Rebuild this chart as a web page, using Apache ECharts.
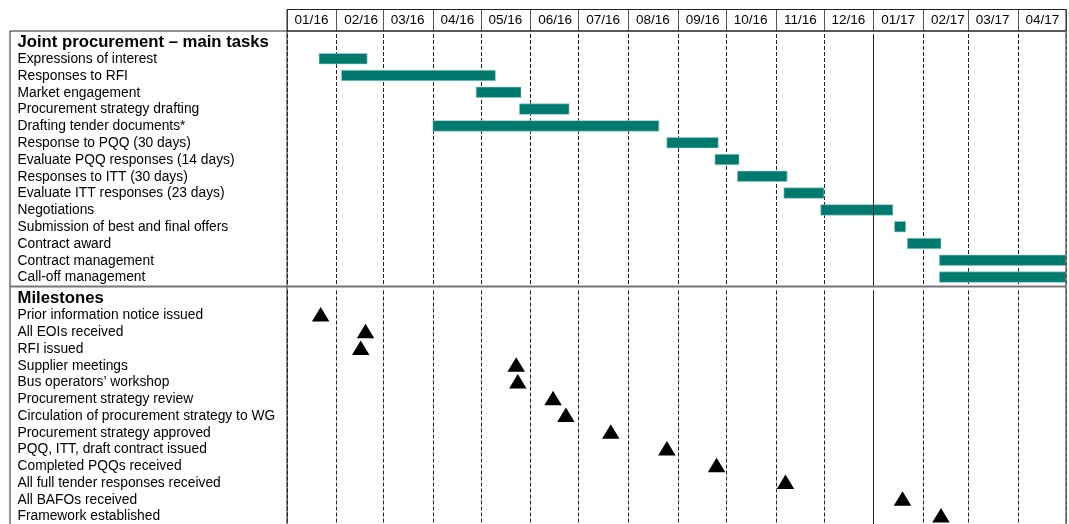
<!DOCTYPE html>
<html><head><meta charset="utf-8">
<script src="https://cdn.jsdelivr.net/npm/echarts@6/dist/echarts.min.js"></script>
<style>html,body{margin:0;padding:0;background:#fff}#c{width:1069px;height:524px}</style>
</head><body><div id="c"></div>
<script>
const taskHeader = 'Joint procurement – main tasks';
const tasks = ['Expressions of interest','Responses to RFI','Market engagement','Procurement strategy drafting','Drafting tender documents*','Response to PQQ (30 days)','Evaluate PQQ responses (14 days)','Responses to ITT (30 days)','Evaluate ITT responses (23 days)','Negotiations','Submission of best and final offers','Contract award','Contract management','Call-off management'];
const taskStart = ['2016-01-21','2016-02-04','2016-04-28','2016-05-25','2016-04-01','2016-08-25','2016-09-24','2016-10-08','2016-11-06','2016-11-29','2017-01-14','2017-01-22','2017-02-11','2017-02-11'];
const taskEnd = ['2016-02-20','2016-05-10','2016-05-26','2016-06-25','2016-08-20','2016-09-26','2016-10-09','2016-11-08','2016-12-01','2017-01-13','2017-01-21','2017-02-12','2017-05-03','2017-05-03'];
const milestoneHeader = 'Milestones';
const milestones = ['Prior information notice issued','All EOIs received','RFI issued','Supplier meetings','Bus operators’ workshop','Procurement strategy review','Circulation of procurement strategy to WG','Procurement strategy approved','PQQ, ITT, draft contract issued','Completed PQQs received','All full tender responses received','All BAFOs received','Framework established'];
const milestoneDate = ['2016-01-22','2016-02-19','2016-02-16','2016-05-23','2016-05-24','2016-06-15','2016-06-23','2016-07-21','2016-08-25','2016-09-25','2016-11-07','2017-01-19','2017-02-12'];
const axisStart = '2016-01-01';
const axisEnd = '2017-05-01';
const yearBreak = '2017-01-01';

const L = 287, R = 1066, TOP = 31, SEP = 286.5, HTOP = 9.5, BOX = 10;
const G1TOP = 34, G1H = 252, G2TOP = 290.5, G2H = 234.5;
const FONT = 'Liberation Sans, Arial, sans-serif';
const barColor = '#00796e';
const endTime = new Date(axisEnd + 'T00:00:00').getTime();

const chart = echarts.init(document.getElementById('c'), null, {renderer:'canvas'});

function yAxisCfg(gi, header, items) {
  return {
    type:'category', gridIndex: gi, inverse:true,
    data:[header].concat(items),
    axisLine:{show:false}, axisTick:{show:false}, splitLine:{show:false},
    axisLabel:{
      interval:0, hideOverlap:false,
      align:'left', margin: L - 17.5, color:'#000', fontFamily: FONT, fontSize:13.8,
      formatter:(v,i)=> i===0 ? '{b|'+v+'}' : v,
      rich:{b:{fontWeight:'bold', fontSize:16.7, fontFamily:FONT, color:'#000', align:'left'}}
    }
  };
}
function monthLabel(v) {
  if (v >= endTime) return '';
  const d = new Date(v);
  const m = d.getMonth() + 1;
  return (m < 10 ? '0' : '') + m + '/' + String(d.getFullYear() % 100).padStart(2, '0');
}
function xAxisCfg(gi, top) {
  return {
    type:'time', gridIndex: gi, min: axisStart, max: axisEnd, position:'top',
    offset: top ? G1TOP - TOP : 0,
    splitNumber: 16, minInterval: 28*86400000, maxInterval: 31*86400000,
    axisLine:{show:false},
    axisTick:{show: top, inside:false, length: TOP-HTOP, lineStyle:{color:'#555', width:1}},
    axisLabel:{show: top, formatter: monthLabel, color:'#000', fontFamily:FONT, fontSize:13.5,
      padding:[0,0,0,49], margin:4, showMinLabel:true, showMaxLabel:true, hideOverlap:false},
    splitLine:{show:true, lineStyle:{color:'#222', type:[4,2], width:1}}
  };
}
const yearLine = {
  symbol:'none', silent:true, label:{show:false},
  lineStyle:{color:'#222', type:'solid', width:1},
  emphasis:{disabled:true},
  data:[{xAxis: yearBreak}]
};

chart.setOption({
  animation:false,
  grid:[
    {left:L, right:1069-R, top:G1TOP, height:G1H, containLabel:false, outerBoundsMode:'none'},
    {left:L, right:1069-R, top:G2TOP, height:G2H, containLabel:false, outerBoundsMode:'none'}
  ],
  xAxis:[xAxisCfg(0,true), xAxisCfg(1,false)],
  yAxis:[yAxisCfg(0,taskHeader,tasks), yAxisCfg(1,milestoneHeader,milestones)],
  series:[
    {
      type:'custom', xAxisIndex:0, yAxisIndex:0, clip:true,
      data: tasks.map((t,i)=>[i+1, taskStart[i], taskEnd[i]]),
      encode:{x:[1,2], y:0},
      renderItem:(params, api)=>{
        const y = api.value(0);
        const s = api.coord([api.value(1), y]);
        const e = api.coord([api.value(2), y]);
        const h = 10.5;
        const rect = echarts.graphic.clipRectByRect(
          {x:s[0], y:s[1]-h/2-0.5, width:e[0]-s[0], height:h},
          {x:params.coordSys.x, y:params.coordSys.y - 5, width:params.coordSys.width, height:params.coordSys.height + 10});
        return rect && {type:'rect', shape:rect, style:{fill:barColor, stroke:'#9fd0c9', lineWidth:0.6}};
      }
    },
    {
      type:'scatter', xAxisIndex:0, yAxisIndex:0, data:[], markLine: yearLine
    },
    {
      type:'scatter', xAxisIndex:1, yAxisIndex:1, symbol:'triangle', symbolSize:[17.5,14.5],
      symbolOffset:[0,-1.5],
      itemStyle:{color:'#000', opacity:1},
      data: milestones.map((m,i)=>[milestoneDate[i], i+1]),
      markLine: yearLine
    }
  ],
  graphic:[
    {type:'rect', shape:{x:L, y:HTOP, width:R-L, height:TOP-HTOP}, style:{fill:'none', stroke:'#222', lineWidth:1}, silent:true, z:10},
    {type:'line', shape:{x1:BOX, y1:TOP, x2:R, y2:TOP}, style:{stroke:'#222', lineWidth:1}, silent:true, z:10},
    {type:'line', shape:{x1:BOX, y1:TOP, x2:BOX, y2:530}, style:{stroke:'#222', lineWidth:1}, silent:true, z:10},
    {type:'line', shape:{x1:L, y1:TOP, x2:L, y2:530}, style:{stroke:'#222', lineWidth:1}, silent:true, z:10},
    {type:'line', shape:{x1:BOX, y1:SEP, x2:R, y2:SEP}, style:{stroke:'#777', lineWidth:2}, silent:true, z:10},
    {type:'line', shape:{x1:R, y1:TOP, x2:R, y2:530}, style:{stroke:'#666', lineWidth:1.5}, silent:true, z:10}
  ]
});
</script></body></html>
